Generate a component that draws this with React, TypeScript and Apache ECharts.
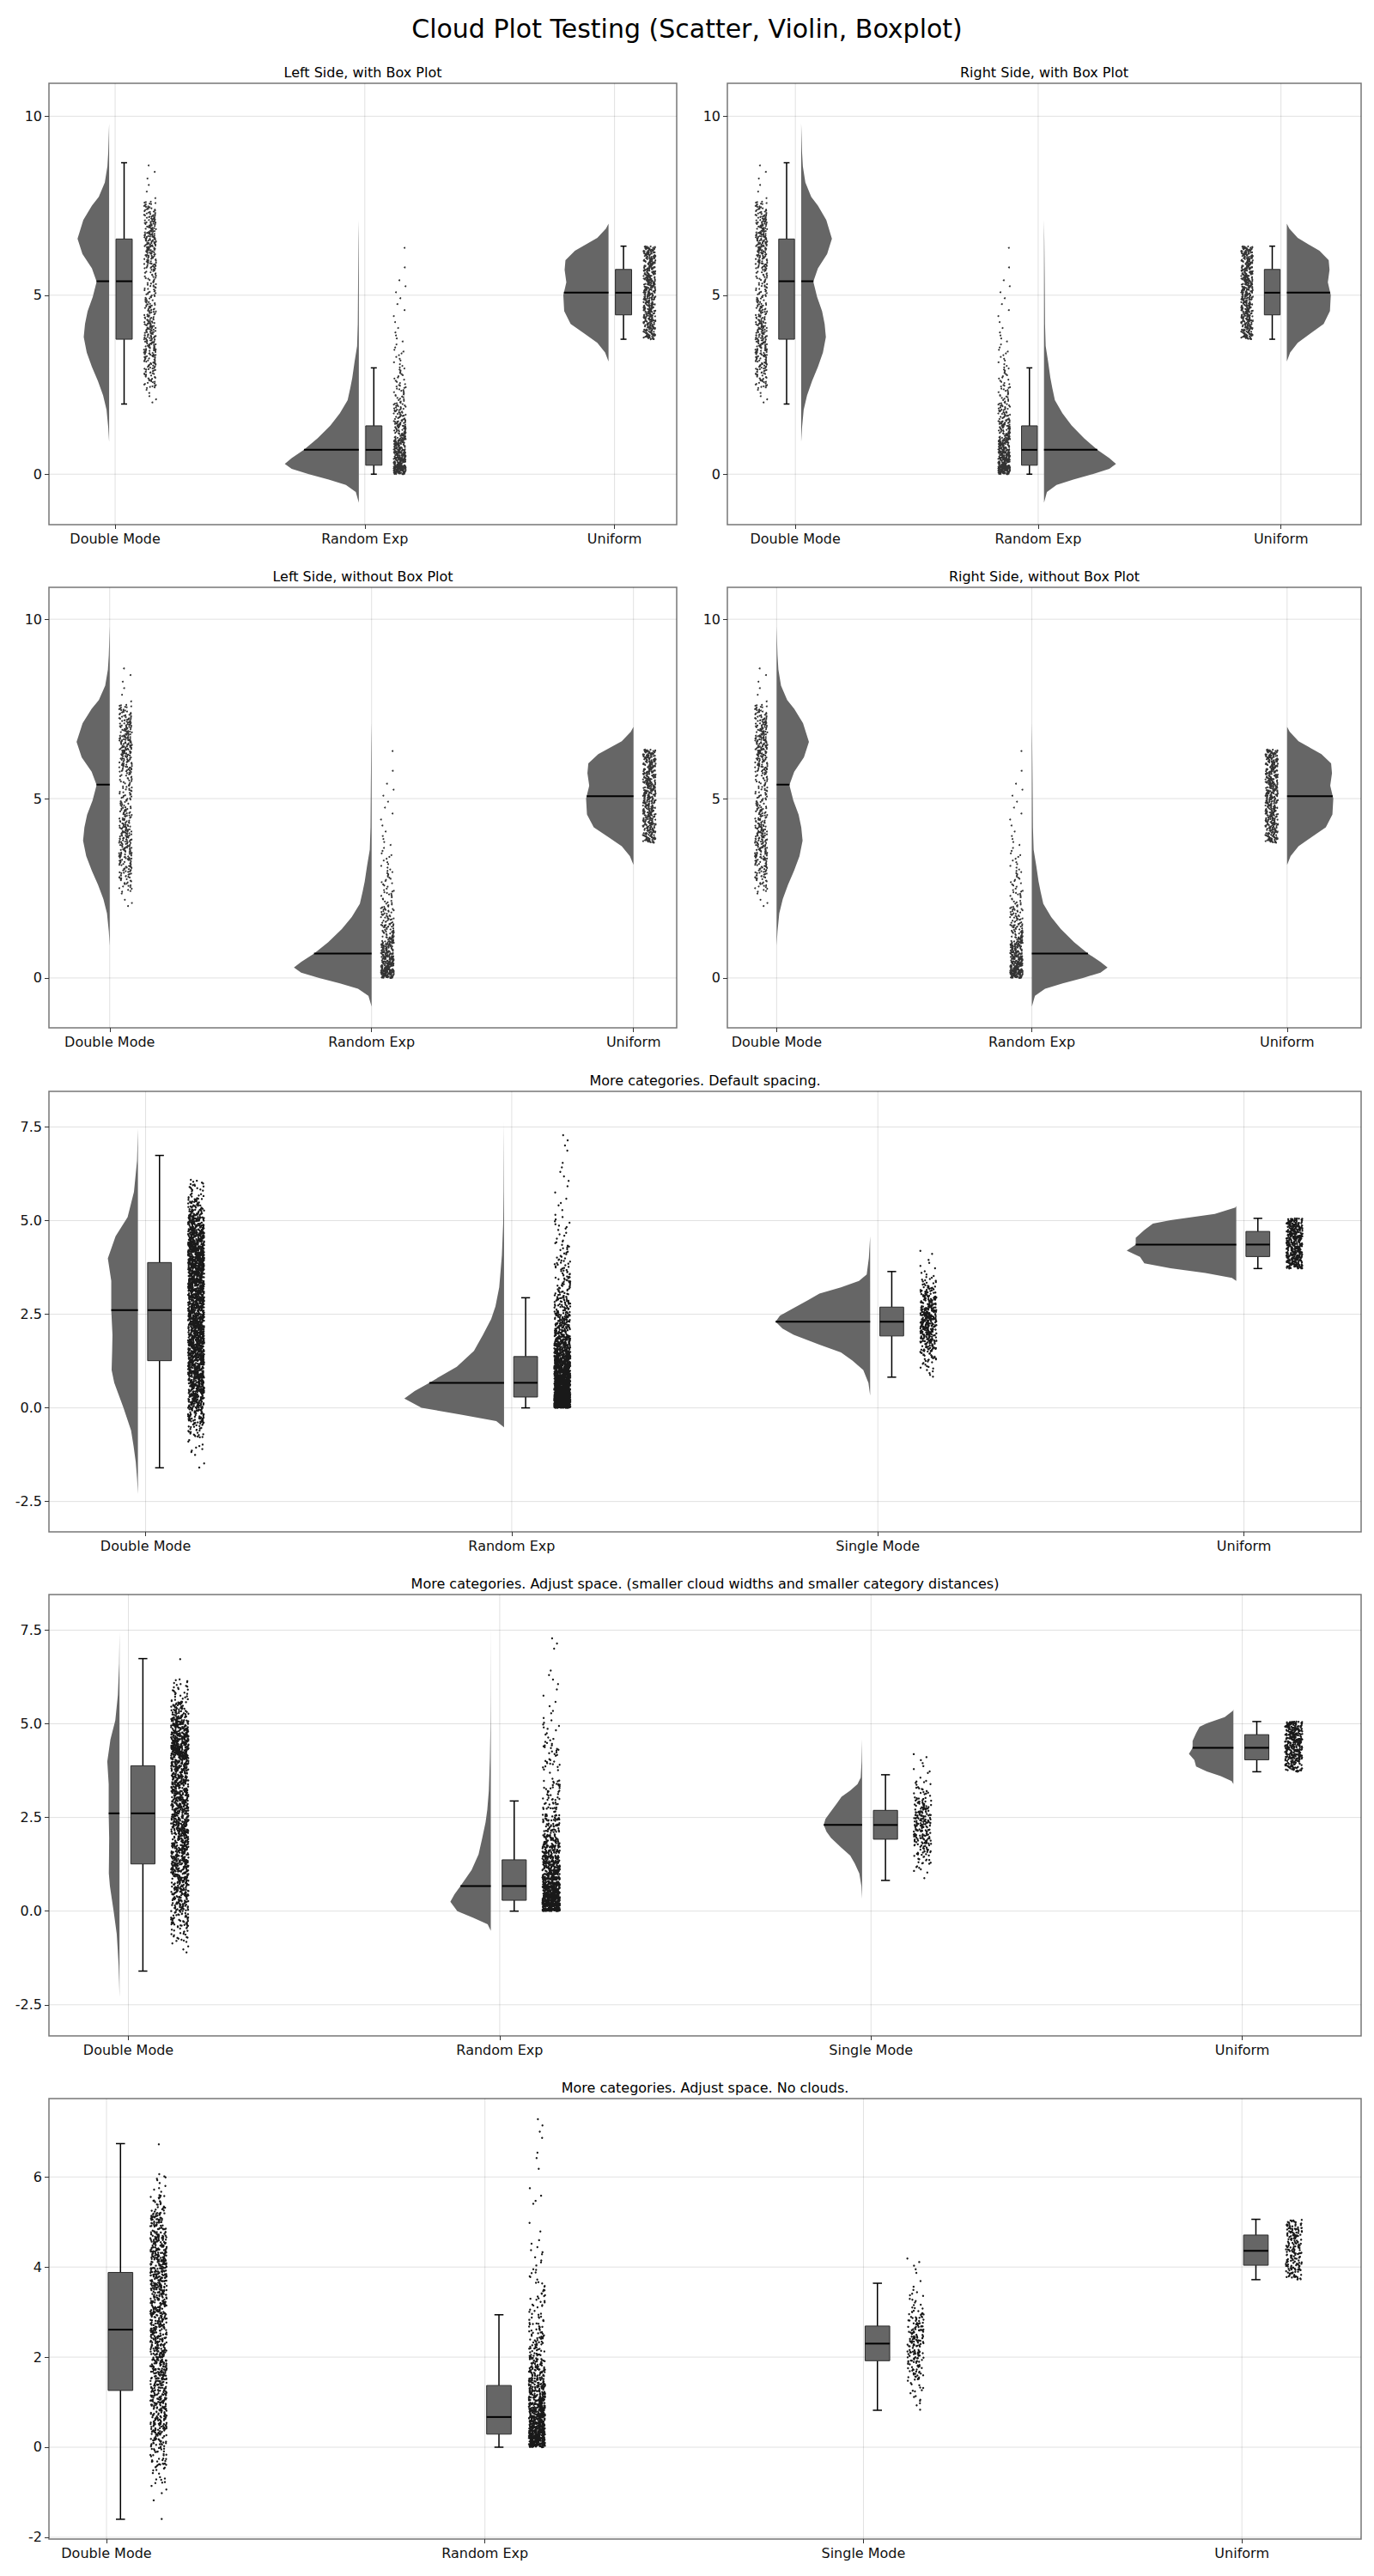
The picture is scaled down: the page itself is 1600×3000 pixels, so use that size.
import React, { useEffect, useRef } from "react";
import * as echarts from "echarts";

// ---------------- data ----------------
const CATEGORIES_A = ["Double Mode", "Random Exp", "Uniform"];
const CATEGORIES_B = ["Double Mode", "Random Exp", "Single Mode", "Uniform"];

// box summaries: [whisker low, Q1, median, Q3, whisker high]
const BOX_A = [
  [1.96, 3.77, 5.39, 6.57, 8.7],
  [0.0, 0.25, 0.68, 1.35, 2.97],
  [3.77, 4.45, 5.07, 5.72, 6.37],
];
const BOX_B = [
  [-1.6, 1.26, 2.61, 3.88, 6.74],
  [0.0, 0.29, 0.67, 1.37, 2.94],
  [0.82, 1.92, 2.3, 2.69, 3.64],
  [3.72, 4.04, 4.36, 4.71, 5.06],
];

// violin (density) profiles: [value, relative width]
const VIOLIN_A_DOUBLE = [[0.9, 0], [1.3, 1], [1.8, 3], [2.2, 7], [2.6, 13], [3.0, 20], [3.4, 26], [3.83, 29.5], [4.2, 28], [4.55, 25], [4.95, 19], [5.38, 14.5], [5.75, 20], [6.15, 31], [6.58, 36.7], [7.1, 30], [7.5, 20], [7.75, 12], [8.15, 5], [8.6, 2], [9.0, 1], [9.8, 0]];
const VIOLIN_A_EXP = [[-0.8, 0], [-0.5, 3.5], [-0.3, 15], [-0.15, 35], [0, 58], [0.15, 78], [0.29, 86], [0.45, 78], [0.675, 64], [1.0, 48], [1.36, 33], [1.7, 22], [2.07, 13], [2.4, 10], [2.69, 7.6], [3.13, 5], [3.58, 2], [4.2, 1.2], [5.5, 0.8], [6.5, 0.4], [7.1, 0]];
const VIOLIN_A_UNIFORM = [[3.15, 0], [3.4, 4], [3.67, 13], [3.93, 28], [4.2, 44], [4.56, 51.5], [5.0, 52.5], [5.36, 49], [5.71, 51], [5.98, 50], [6.24, 39], [6.6, 13], [6.86, 3], [7.0, 0]];

const VIOLIN_B_DOUBLE = [[-2.3, 0], [-1.88, 1], [-1.45, 2.5], [-1.03, 5], [-0.6, 8], [0, 16.8], [0.67, 27.5], [1.01, 30.6], [1.5, 30], [1.95, 29.6], [2.61, 31], [3.39, 31], [3.99, 35], [4.58, 26], [5.09, 12], [5.77, 4.6], [6.6, 1], [7.45, 0]];
const VIOLIN_B_EXP = [[-0.52, 0], [-0.35, 9], [-0.18, 50], [0, 96], [0.25, 116], [0.45, 104], [0.67, 87], [1.1, 55], [1.52, 35], [1.95, 24.5], [2.37, 15], [2.71, 10], [3.22, 5.6], [4.07, 2.5], [4.92, 1], [5.77, 0.5], [7.64, 0]];
const VIOLIN_B_SINGLE = [[0.33, 0], [0.67, 2], [1.01, 8], [1.27, 21], [1.48, 34], [1.69, 59], [1.95, 89], [2.12, 102], [2.3, 110], [2.46, 105], [2.63, 92], [2.88, 72], [3.05, 59], [3.22, 34], [3.39, 13], [3.56, 4], [4.0, 1.5], [4.58, 0]];
const VIOLIN_B_UNIFORM = [[3.39, 0], [3.47, 5], [3.6, 36], [3.73, 76.5], [3.86, 107], [4.03, 112], [4.2, 127.5], [4.36, 117], [4.54, 117], [4.75, 107], [4.92, 97], [5.01, 76.5], [5.18, 25], [5.35, 1], [5.39, 0]];

// scatter clouds as value bins: [from, to, count]
const SCATTER_A_DOUBLE = [[1.96, 2.4, 5], [2.4, 2.75, 22], [2.75, 3.25, 45], [3.25, 3.75, 60], [3.75, 4.25, 62], [4.25, 4.75, 45], [4.75, 5.25, 30], [5.25, 5.75, 30], [5.75, 6.25, 55], [6.25, 6.75, 75], [6.75, 7.25, 55], [7.25, 7.62, 28], [7.62, 8.72, 6]];
const SCATTER_A_EXP = [[0, 0.25, 110], [0.25, 0.5, 85], [0.5, 0.75, 70], [0.75, 1, 55], [1, 1.5, 70], [1.5, 2, 42], [2, 2.5, 25], [2.5, 3, 16], [3, 3.5, 10], [3.5, 4, 6], [4, 5, 6], [5, 5.5, 3], [5.5, 6.6, 2]];
const SCATTER_A_UNIFORM = [[3.77, 6.37, 500]];

const SCATTER_B_DOUBLE = [[-1.65, -1.2, 4], [-1.2, -0.8, 10], [-0.8, -0.4, 40], [-0.4, 0, 80], [0, 0.4, 130], [0.4, 0.8, 170], [0.8, 1.2, 195], [1.2, 1.6, 200], [1.6, 2.0, 200], [2.0, 2.4, 200], [2.4, 2.8, 205], [2.8, 3.2, 215], [3.2, 3.6, 230], [3.6, 4.0, 240], [4.0, 4.4, 225], [4.4, 4.8, 185], [4.8, 5.2, 125], [5.2, 5.6, 60], [5.6, 6.0, 25], [6.0, 6.2, 8], [6.7, 6.75, 1]];
const SCATTER_B_EXP = [[0, 0.25, 520], [0.25, 0.5, 420], [0.5, 0.75, 330], [0.75, 1.0, 260], [1.0, 1.25, 200], [1.25, 1.5, 160], [1.5, 1.75, 120], [1.75, 2.0, 95], [2.0, 2.5, 130], [2.5, 3.0, 80], [3.0, 3.5, 50], [3.5, 4.0, 35], [4.0, 4.5, 22], [4.5, 5.0, 13], [5.0, 5.5, 8], [5.5, 6.0, 3], [6.0, 6.6, 5], [6.8, 7.35, 4]];
const SCATTER_B_SINGLE = [[0.76, 1.0, 5], [1.0, 1.25, 12], [1.25, 1.5, 25], [1.5, 1.75, 45], [1.75, 2.0, 70], [2.0, 2.25, 85], [2.25, 2.5, 90], [2.5, 2.75, 75], [2.75, 3.0, 50], [3.0, 3.25, 30], [3.25, 3.5, 15], [3.5, 3.75, 6], [3.75, 4.23, 6]];
const SCATTER_B_UNIFORM = [[3.72, 5.06, 500]];

const Y_TICKS_TOP = [0, 5, 10];
const Y_TICKS_MID = [-2.5, 0, 2.5, 5, 7.5];
const Y_TICKS_LOW = [-2, 0, 2, 4, 6];

const MAIN_TITLE = "Cloud Plot Testing (Scatter, Violin, Boxplot)";

// ---------------- set-up ----------------
const SETS: any = {
  A: {
    cats: CATEGORIES_A,
    boxes: BOX_A,
    violins: [VIOLIN_A_DOUBLE, VIOLIN_A_EXP, VIOLIN_A_UNIFORM],
    scatters: [SCATTER_A_DOUBLE, SCATTER_A_EXP, SCATTER_A_UNIFORM],
    dot: 2,
    dotOpacity: 0.8,
  },
  B: {
    cats: CATEGORIES_B,
    boxes: BOX_B,
    violins: [VIOLIN_B_DOUBLE, VIOLIN_B_EXP, VIOLIN_B_SINGLE, VIOLIN_B_UNIFORM],
    scatters: [SCATTER_B_DOUBLE, SCATTER_B_EXP, SCATTER_B_SINGLE, SCATTER_B_UNIFORM],
    dot: 2.4,
    dotOpacity: 0.9,
  },
};

const PANELS: any[] = [
  { title: "Left Side, with Box Plot", grid: { left: 57, top: 97, width: 731, height: 514 }, x: [0.735, 3.249], y: [-1.41, 10.92], ticks: Y_TICKS_TOP, dec: 0, set: "A", vScale: 1 / 290,
    layout: { side: -1, violinBase: -0.024, boxCenter: 0.036, sLo: 0.116, sHi: 0.164 } },
  { title: "Right Side, with Box Plot", grid: { left: 847, top: 97, width: 738, height: 514 }, x: [0.72, 3.33], y: [-1.41, 10.92], ticks: Y_TICKS_TOP, dec: 0, set: "A", vScale: 1 / 290,
    layout: { side: 1, violinBase: 0.024, boxCenter: -0.036, sLo: -0.164, sHi: -0.116 } },
  { title: "Left Side, without Box Plot", grid: { left: 57, top: 684, width: 731, height: 513 }, x: [0.768, 3.165], y: [-1.39, 10.89], ticks: Y_TICKS_TOP, dec: 0, set: "A", vScale: 1 / 290,
    layout: { side: -1, violinBase: 0, boxCenter: null, sLo: 0.036, sHi: 0.085 } },
  { title: "Right Side, without Box Plot", grid: { left: 847, top: 684, width: 738, height: 513 }, x: [0.807, 3.29], y: [-1.39, 10.89], ticks: Y_TICKS_TOP, dec: 0, set: "A", vScale: 1 / 290,
    layout: { side: 1, violinBase: 0, boxCenter: null, sLo: -0.085, sHi: -0.036 } },
  { title: "More categories. Default spacing.", grid: { left: 57, top: 1271, width: 1528, height: 513 }, x: [0.736, 4.32], y: [-3.31, 8.45], ticks: Y_TICKS_MID, dec: 1, set: "B", vScale: 1 / 426,
    layout: { side: -1, violinBase: -0.021, boxCenter: 0.038, sLo: 0.116, sHi: 0.16 } },
  { title: "More categories. Adjust space. (smaller cloud widths and smaller category distances)", grid: { left: 57, top: 1857, width: 1528, height: 514 }, x: [0.786, 4.32], y: [-3.33, 8.45], ticks: Y_TICKS_MID, dec: 1, set: "B", vScale: 0.4 / 426,
    layout: { side: -1, violinBase: -0.024, boxCenter: 0.039, sLo: 0.115, sHi: 0.162 } },
  { title: "More categories. Adjust space. No clouds.", grid: { left: 57, top: 2444, width: 1528, height: 513 }, x: [0.848, 4.315], y: [-2.04, 7.74], ticks: Y_TICKS_LOW, dec: 0, set: "B", vScale: 0,
    layout: { side: -1, violinBase: null, boxCenter: 0.037, sLo: 0.116, sHi: 0.159 } },
];

const FONT = "DejaVu Sans";
const GRAY = "#666666";

function widthAt(profile: number[][], v: number) {
  for (let i = 0; i < profile.length - 1; i++) {
    const [y0, w0] = profile[i];
    const [y1, w1] = profile[i + 1];
    if (v >= y0 && v <= y1) return w0 + ((w1 - w0) * (v - y0)) / (y1 - y0);
  }
  return 0;
}

// deterministic horizontal jitter position in [0,1) for the n-th dot
function jitter(n: number) {
  let t = (n * 2654435761 + 0x6d2b79f5) | 0;
  t = Math.imul(t ^ (t >>> 15), t | 1);
  t ^= t + Math.imul(t ^ (t >>> 7), t | 61);
  return ((t ^ (t >>> 14)) >>> 0) / 4294967296;
}

function cloudPoints(bins: number[][], cx: number, lo: number, hi: number, seed: number) {
  const pts: number[][] = [];
  let g = 0;
  bins.forEach(([a, b, n]) => {
    for (let j = 0; j < n; j++) {
      const fx = jitter(seed * 100003 + g);
      const fy = (j + 0.5) / n;
      pts.push([cx + lo + fx * (hi - lo), a + fy * (b - a)]);
      g++;
    }
  });
  return pts;
}

function buildOption() {
  const grid: any[] = [];
  const xAxis: any[] = [];
  const yAxis: any[] = [];
  const series: any[] = [];
  const graphic: any[] = [];

  graphic.push({
    type: "text",
    x: 800,
    y: 33,
    style: { text: MAIN_TITLE, fill: "#000", font: `30px "${FONT}"`, align: "center", verticalAlign: "middle", textAlign: "center", textVerticalAlign: "middle" },
  });

  PANELS.forEach((p, i) => {
    const set = SETS[p.set];
    const cats: string[] = set.cats;
    const L = p.layout;
    grid.push({ ...p.grid, show: true, borderColor: "#777777", borderWidth: 1.5, backgroundColor: "transparent", containLabel: false });
    graphic.push({
      type: "text",
      x: p.grid.left + p.grid.width / 2,
      y: p.grid.top - 13,
      style: { text: p.title, fill: "#000", font: `16px "${FONT}"`, align: "center", verticalAlign: "middle", textAlign: "center", textVerticalAlign: "middle" },
    });
    const catVals = cats.map((_, k) => k + 1);
    xAxis.push({
      type: "value",
      gridIndex: i,
      min: p.x[0],
      max: p.x[1],
      axisLine: { show: false, onZero: false },
      splitLine: { show: false },
      axisTick: { show: true, customValues: catVals, length: 5, lineStyle: { color: "#333", width: 1 } },
      axisLabel: {
        customValues: catVals,
        formatter: (v: number) => cats[Math.round(v) - 1] || "",
        fontFamily: FONT,
        fontSize: 16,
        color: "#111",
        margin: 8,
      },
    });
    yAxis.push({
      type: "value",
      gridIndex: i,
      min: p.y[0],
      max: p.y[1],
      axisLine: { show: false, onZero: false },
      splitLine: { show: false },
      axisTick: { show: true, customValues: p.ticks, length: 5, lineStyle: { color: "#333", width: 1 } },
      axisLabel: {
        customValues: p.ticks,
        formatter: (v: number) => (p.dec ? v.toFixed(p.dec) : String(Math.round(v))),
        fontFamily: FONT,
        fontSize: 16,
        color: "#111",
        margin: 8,
      },
    });

    // grid lines
    const gridData = [...p.ticks.map((t: number) => [p.x[0], t]), ...catVals.map((c) => [c, p.y[0]])];
    series.push({
      type: "custom",
      xAxisIndex: i,
      yAxisIndex: i,
      z: 1,
      silent: true,
      data: gridData,
      renderItem: (params: any, api: any) => {
        const cs = params.coordSys;
        const idx = params.dataIndex;
        const style = { stroke: "rgba(0,0,0,0.12)", lineWidth: 1 };
        if (idx < p.ticks.length) {
          const pt = api.coord([p.x[0], p.ticks[idx]]);
          return { type: "line", shape: { x1: cs.x, y1: pt[1], x2: cs.x + cs.width, y2: pt[1] }, style };
        }
        const c = catVals[idx - p.ticks.length];
        const pt = api.coord([c, p.y[0]]);
        return { type: "line", shape: { x1: pt[0], y1: cs.y, x2: pt[0], y2: cs.y + cs.height }, style };
      },
    });

    // violins
    if (L.violinBase !== null) {
      series.push({
        type: "custom",
        xAxisIndex: i,
        yAxisIndex: i,
        z: 2,
        silent: true,
        clip: true,
        data: catVals.map((c, k) => [c, set.boxes[k][2]]),
        renderItem: (params: any, api: any) => {
          const k = params.dataIndex;
          const prof: number[][] = set.violins[k];
          const base = k + 1 + L.violinBase;
          const pts = prof.map(([v, w]) => api.coord([base + L.side * w * p.vScale, v]));
          pts.push(api.coord([base, prof[prof.length - 1][0]]));
          pts.push(api.coord([base, prof[0][0]]));
          const med = set.boxes[k][2];
          const mw = widthAt(prof, med) * p.vScale;
          const a = api.coord([base + L.side * mw, med]);
          const b = api.coord([base, med]);
          return {
            type: "group",
            children: [
              { type: "polygon", shape: { points: pts }, style: { fill: GRAY } },
              { type: "line", shape: { x1: a[0], y1: a[1], x2: b[0], y2: b[1] }, style: { stroke: "#000", lineWidth: 2 } },
            ],
          };
        },
      });
    }

    // box plots
    if (L.boxCenter !== null) {
      series.push({
        type: "custom",
        xAxisIndex: i,
        yAxisIndex: i,
        z: 3,
        silent: true,
        data: catVals.map((c, k) => [c, set.boxes[k][2]]),
        renderItem: (params: any, api: any) => {
          const k = params.dataIndex;
          const [lo, q1, med, q3, hi] = set.boxes[k];
          const cx = k + 1 + L.boxCenter;
          const hw = 0.0325;
          const cap = 0.012;
          const tl = api.coord([cx - hw, q3]);
          const br = api.coord([cx + hw, q1]);
          const line = (x1: number, y1: number, x2: number, y2: number, w: number) => {
            const s = api.coord([x1, y1]);
            const e = api.coord([x2, y2]);
            return { type: "line", shape: { x1: s[0], y1: s[1], x2: e[0], y2: e[1] }, style: { stroke: "#000", lineWidth: w } };
          };
          return {
            type: "group",
            children: [
              line(cx, hi, cx, q3, 1.5),
              line(cx, q1, cx, lo, 1.5),
              line(cx - cap, hi, cx + cap, hi, 1.5),
              line(cx - cap, lo, cx + cap, lo, 1.5),
              { type: "rect", shape: { x: tl[0], y: tl[1], width: br[0] - tl[0], height: br[1] - tl[1] }, style: { fill: GRAY, stroke: "#2a2a2a", lineWidth: 1 } },
              line(cx - hw, med, cx + hw, med, 2),
            ],
          };
        },
      });
    }

    // scatter clouds
    const pts: number[][] = [];
    set.scatters.forEach((bins: number[][], k: number) => {
      cloudPoints(bins, k + 1, L.sLo, L.sHi, k + 1).forEach((q) => pts.push(q));
    });
    series.push({
      type: "scatter",
      xAxisIndex: i,
      yAxisIndex: i,
      z: 4,
      silent: true,
      large: true,
      largeThreshold: 1,
      progressive: 0,
      symbol: "circle",
      symbolSize: set.dot,
      itemStyle: { color: "#000", opacity: set.dotOpacity },
      data: pts,
    });
  });

  return {
    animation: false,
    backgroundColor: "#ffffff",
    textStyle: { fontFamily: FONT },
    grid,
    xAxis,
    yAxis,
    series,
    graphic,
  };
}

export default function App() {
  const ref = useRef<HTMLDivElement>(null);
  useEffect(() => {
    document.body.style.margin = "0";
    if (!ref.current) return;
    const chart = echarts.init(ref.current, null, { renderer: "svg" });
    chart.setOption(buildOption() as any);
    return () => chart.dispose();
  }, []);
  return <div ref={ref} style={{ width: 1600, height: 3000, background: "#fff" }} />;
}
